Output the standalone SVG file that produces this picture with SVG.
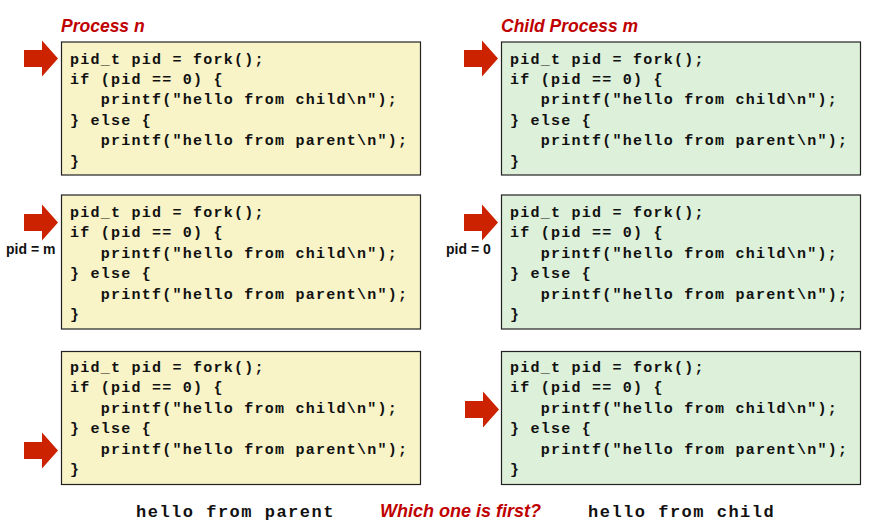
<svg xmlns="http://www.w3.org/2000/svg" width="896" height="530" viewBox="0 0 896 530">
<style>
.box{stroke:#222;stroke-width:1.2}
.par{fill:#F8F4C8}
.chi{fill:#DDF0D9}
.code{font-family:"Liberation Mono","Courier New",monospace;font-weight:bold;font-size:15px;letter-spacing:1.25px;fill:#111;white-space:pre}
.out{font-family:"Liberation Mono","Courier New",monospace;font-weight:bold;font-size:17px;letter-spacing:1.5px;fill:#111;white-space:pre}
.title{font-family:"Liberation Sans",Arial,sans-serif;font-weight:bold;font-style:italic;font-size:17.5px;fill:#C00000}
.q{font-family:"Liberation Sans",Arial,sans-serif;font-weight:bold;font-style:italic;font-size:18px;fill:#C00000}
.lbl{font-family:"Liberation Sans",Arial,sans-serif;font-weight:bold;font-size:14px;fill:#111}
.arrow{fill:#CC2200}
</style>
<defs>
<path id="arr" d="M0,-8.5 L18,-8.5 L18,-18 L34,0 L18,18 L18,8.5 L0,8.5 Z"/>
<g id="code">
<text class="code" x="0" y="0">pid_t pid = fork();</text>
<text class="code" x="0" y="20.4">if (pid == 0) {</text>
<text class="code" x="0" y="40.8">   printf("hello from child\n");</text>
<text class="code" x="0" y="61.2">} else {</text>
<text class="code" x="0" y="81.6">   printf("hello from parent\n");</text>
<text class="code" x="0" y="102">}</text>
</g>
</defs>
<text class="title" x="61" y="32">Process n</text>
<text class="title" x="501" y="32">Child Process m</text>
<g id="parent1">
<rect class="box par" x="61.5" y="42" width="359" height="133"/>
<use href="#code" x="70" y="63.5"/>
</g>
<g id="child1">
<rect class="box chi" x="501.5" y="42" width="359" height="133"/>
<use href="#code" x="510" y="63.5"/>
</g>
<g id="parent2">
<rect class="box par" x="61.5" y="195" width="359" height="134"/>
<use href="#code" x="70" y="217"/>
</g>
<g id="child2">
<rect class="box chi" x="501.5" y="195" width="359" height="134"/>
<use href="#code" x="510" y="217"/>
</g>
<g id="parent3">
<rect class="box par" x="61.5" y="351.5" width="359" height="133"/>
<use href="#code" x="70" y="372"/>
</g>
<g id="child3">
<rect class="box chi" x="501.5" y="351.5" width="359" height="133"/>
<use href="#code" x="510" y="372"/>
</g>
<g id="connectors">
<use class="arrow" href="#arr" x="24" y="58.5"/>
<use class="arrow" href="#arr" x="464" y="58.5"/>
<use class="arrow" href="#arr" x="24" y="222.5"/>
<use class="arrow" href="#arr" x="464" y="222.5"/>
<use class="arrow" href="#arr" x="24" y="450.5"/>
<use class="arrow" href="#arr" x="465" y="409.5"/>
</g>
<text class="lbl" x="6" y="254">pid = m</text>
<text class="lbl" x="446" y="254">pid = 0</text>
<text class="out" x="136" y="517">hello from parent</text>
<text class="q" x="380" y="517">Which one is first?</text>
<text class="out" x="588" y="517">hello from child</text>
</svg>
